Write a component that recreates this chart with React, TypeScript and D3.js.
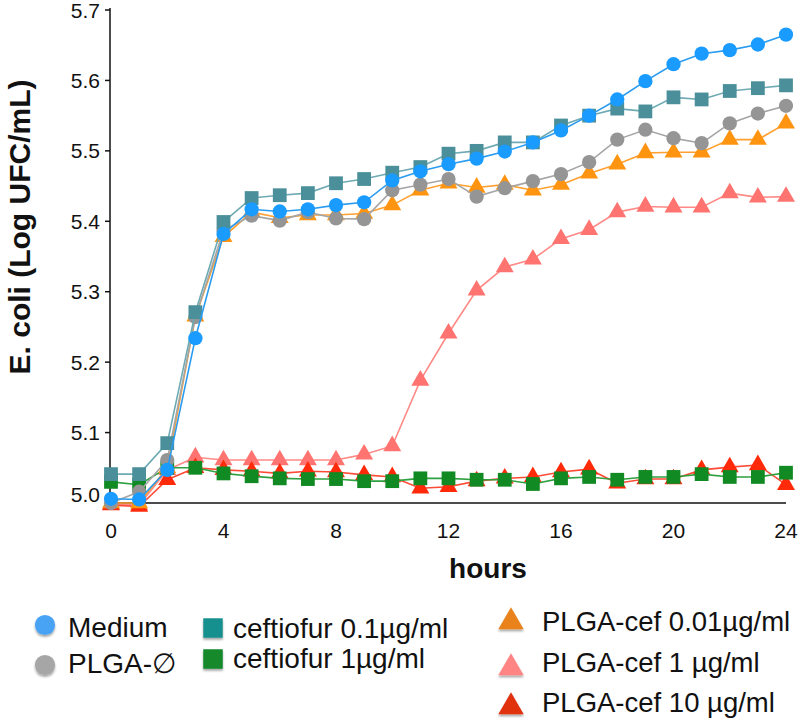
import * as d3 from "d3";

const WIDTH = 799;
const HEIGHT = 722;

const HOURS = [0, 1, 2, 3, 4, 5, 6, 7, 8, 9, 10, 11, 12, 13, 14, 15, 16, 17, 18, 19, 20, 21, 22, 23, 24];
const X_TICKS = [0, 4, 8, 12, 16, 20, 24];
const Y_TICKS = [5.0, 5.1, 5.2, 5.3, 5.4, 5.5, 5.6, 5.7];

// values (log UFC/mL)
const medium = [5.006, 5.005, 5.047, 5.234, 5.382, 5.417, 5.414, 5.417, 5.423, 5.427, 5.458, 5.471, 5.481, 5.489, 5.499, 5.512, 5.529, 5.55, 5.573, 5.599, 5.623, 5.638, 5.643, 5.651, 5.665];
const plgaEmpty = [5.0, 5.016, 5.061, 5.264, 5.387, 5.408, 5.401, 5.413, 5.404, 5.403, 5.444, 5.452, 5.46, 5.435, 5.447, 5.457, 5.467, 5.484, 5.516, 5.53, 5.518, 5.511, 5.539, 5.553, 5.564];
const ceftiofur01 = [5.041, 5.041, 5.085, 5.271, 5.399, 5.433, 5.437, 5.44, 5.454, 5.46, 5.469, 5.477, 5.496, 5.5, 5.512, 5.512, 5.536, 5.55, 5.56, 5.556, 5.576, 5.573, 5.585, 5.589, 5.593];
const ceftiofur1 = [5.03, 5.026, 5.05, 5.05, 5.042, 5.038, 5.035, 5.034, 5.034, 5.031, 5.031, 5.035, 5.035, 5.033, 5.033, 5.027, 5.035, 5.037, 5.033, 5.037, 5.037, 5.041, 5.037, 5.037, 5.043];
const plgaCef001 = [5.0, 5.0, 5.05, 5.265, 5.378, 5.413, 5.405, 5.409, 5.409, 5.411, 5.423, 5.444, 5.454, 5.448, 5.452, 5.444, 5.452, 5.468, 5.481, 5.497, 5.498, 5.498, 5.516, 5.516, 5.539];
const plgaCef1 = [4.998, 4.997, 5.047, 5.065, 5.061, 5.061, 5.061, 5.061, 5.061, 5.069, 5.081, 5.174, 5.241, 5.302, 5.335, 5.346, 5.375, 5.388, 5.413, 5.421, 5.42, 5.42, 5.44, 5.434, 5.435];
const plgaCef10 = [4.997, 4.995, 5.033, 5.05, 5.047, 5.045, 5.042, 5.045, 5.044, 5.04, 5.037, 5.021, 5.023, 5.031, 5.035, 5.037, 5.044, 5.048, 5.028, 5.034, 5.034, 5.047, 5.051, 5.054, 5.026];

type Series = {
  name: string;
  values: number[];
  shape: d3.SymbolType;
  size: number;
  fill: string;
  stroke: string;
};

// drawn bottom to top
const SERIES: Series[] = [
  { name: "PLGA-cef 1 µg/ml", values: plgaCef1, shape: d3.symbolTriangle, size: 140, fill: "#ff7470", stroke: "#ff8a86" },
  { name: "PLGA-cef 10 µg/ml", values: plgaCef10, shape: d3.symbolTriangle, size: 140, fill: "#ff2a0a", stroke: "#ff4a35" },
  { name: "ceftiofur 1µg/ml", values: ceftiofur1, shape: d3.symbolSquare, size: 190, fill: "#128a24", stroke: "#2fa040" },
  { name: "PLGA-cef 0.01µg/ml", values: plgaCef001, shape: d3.symbolTriangle, size: 140, fill: "#ff9410", stroke: "#ffa030" },
  { name: "PLGA-∅", values: plgaEmpty, shape: d3.symbolCircle, size: 160, fill: "#959595", stroke: "#a5a5a5" },
  { name: "ceftiofur 0.1µg/ml", values: ceftiofur01, shape: d3.symbolSquare, size: 190, fill: "#4a8f99", stroke: "#6eaab3" },
  { name: "Medium", values: medium, shape: d3.symbolCircle, size: 160, fill: "#1a9bff", stroke: "#2a9cf0" },
];

const LEGEND = [
  { label: "Medium", shape: d3.symbolCircle, size: 320, fill: "#4aa3f5", x: 45, y: 625, tx: 68, ty: 637, fs: 28 },
  { label: "PLGA-∅", shape: d3.symbolCircle, size: 320, fill: "#a6a6a6", x: 45, y: 665, tx: 68, ty: 673, fs: 28 },
  { label: "ceftiofur 0.1µg/ml", shape: d3.symbolSquare, size: 380, fill: "#17908f", x: 213, y: 628, tx: 233, ty: 638, fs: 28 },
  { label: "ceftiofur 1µg/ml", shape: d3.symbolSquare, size: 380, fill: "#138a2c", x: 213, y: 659, tx: 233, ty: 668, fs: 28 },
  { label: "PLGA-cef 0.01µg/ml", shape: d3.symbolTriangle, size: 280, fill: "#ea821c", x: 511, y: 622, tx: 542, ty: 631, fs: 27.5 },
  { label: "PLGA-cef 1 µg/ml", shape: d3.symbolTriangle, size: 280, fill: "#ff8585", x: 511, y: 668, tx: 542, ty: 672, fs: 27.5 },
  { label: "PLGA-cef 10 µg/ml", shape: d3.symbolTriangle, size: 280, fill: "#e0300f", x: 511, y: 707, tx: 542, ty: 712, fs: 27.5 },
];

const FONT = "'Liberation Sans', Arial, Helvetica, sans-serif";

const App = () => {
  const xScale = d3.scaleLinear().domain([0, 24]).range([111, 786]);
  const yScale = d3.scaleLinear().domain([5.0, 5.7]).range([503, 10]);

  const line = d3
    .line<number>()
    .x((_, i) => xScale(HOURS[i]))
    .y((d) => yScale(d));

  return (
    <svg
      width={WIDTH}
      height={HEIGHT}
      style={{ position: "absolute", left: 0, top: 0, background: "#fff" }}
      fontFamily={FONT}
    >
      <defs>
        <filter id="shadow" x="-50%" y="-50%" width="200%" height="200%">
          <feDropShadow dx="0" dy="2" stdDeviation="1.2" floodColor="#000" floodOpacity="0.35" />
        </filter>
      </defs>

      {/* axes */}
      <line x1={110} x2={110} y1={8} y2={503} stroke="#111" strokeWidth={1.5} />
      <line x1={110} x2={786} y1={503} y2={503} stroke="#111" strokeWidth={1.5} />
      {Y_TICKS.map((t, i) => (
        <g key={i}>
          {t > 5.0 && (
            <line x1={105} x2={110} y1={yScale(t)} y2={yScale(t)} stroke="#111" strokeWidth={1.5} />
          )}
          <text
            x={100}
            y={t > 5.0 ? yScale(t) + 7.5 : yScale(t) - 1}
            textAnchor="end"
            fontSize={21}
            fill="#111"
          >
            {t.toFixed(1)}
          </text>
        </g>
      ))}
      {X_TICKS.map((t, i) => (
        <text key={i} x={xScale(t)} y={538} textAnchor="middle" fontSize={21} fill="#111">
          {t}
        </text>
      ))}

      <text x={488} y={578} textAnchor="middle" fontSize={28} fontWeight="bold" fill="#111">
        hours
      </text>
      <text
        transform="translate(30,227) rotate(-90)"
        textAnchor="middle"
        fontSize={30}
        fontWeight="bold"
        fill="#111"
      >
        E. coli (Log UFC/mL)
      </text>

      {/* series */}
      {SERIES.map((s, si) => (
        <g key={si}>
          <path d={line(s.values) || ""} fill="none" stroke={s.stroke} strokeWidth={1.6} />
          {s.values.map((v, i) => (
            <path
              key={i}
              d={d3.symbol().type(s.shape).size(s.size)() || ""}
              transform={`translate(${xScale(HOURS[i])},${yScale(v)})`}
              fill={s.fill}
            />
          ))}
        </g>
      ))}

      {/* legend */}
      {LEGEND.map((l, i) => (
        <g key={i}>
          <path
            d={d3.symbol().type(l.shape).size(l.size)() || ""}
            transform={`translate(${l.x},${l.y})`}
            fill={l.fill}
            filter="url(#shadow)"
          />
          <text x={l.tx} y={l.ty} fontSize={l.fs} fill="#111">
            {l.label}
          </text>
        </g>
      ))}
    </svg>
  );
};

export default App;
